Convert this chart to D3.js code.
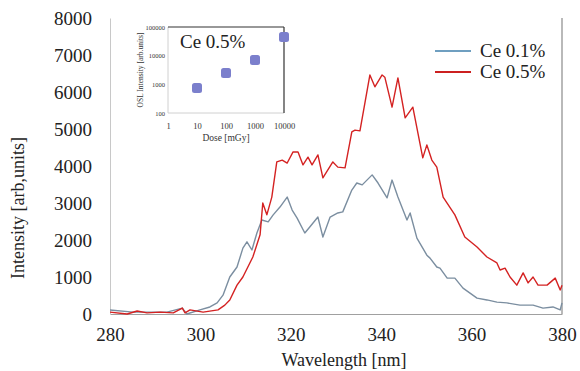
<!DOCTYPE html>
<html>
<head>
<meta charset="utf-8">
<script src="https://cdn.jsdelivr.net/npm/d3@7"></script>
<style>
  html, body { margin: 0; padding: 0; background: #fff; }
  svg { display: block; font-family: "Liberation Serif", "DejaVu Serif", serif; }
</style>
</head>
<body>
<div id="chart"></div>
<script>
// Emission spectra (wavelength nm, intensity arb. units)
const wlCe05 = [280, 283.8, 286, 288.2, 291.1, 294, 296, 296.6, 297.7, 300.6, 303.9, 305.4, 306.5, 308.1, 309.4, 311.6, 313.2, 313.8, 314.7, 315.8, 316.9, 318.1, 319.2, 320.5, 321.6, 322.7, 323.8, 324.7, 326, 327.1, 329.3, 330.4, 332, 333.5, 334.2, 335.3, 337.5, 338.6, 340.2, 340.8, 342.4, 343.7, 345.3, 347, 349.2, 350.1, 351.2, 352.3, 353.7, 356.3, 358.5, 361.2, 363.4, 365.6, 366.3, 367.4, 368.5, 370, 371.4, 372.5, 373.6, 374.7, 376.7, 378.5, 379.6, 380];
const ce05 = [50, 0, 80, 30, 50, 30, 160, 30, 110, 50, 110, 240, 380, 780, 1000, 1540, 2140, 3000, 2680, 3160, 4110, 4160, 4080, 4380, 4380, 4030, 4240, 4030, 4300, 3680, 4110, 3970, 3950, 4920, 4970, 4950, 6460, 6140, 6460, 6400, 5590, 6380, 5300, 5590, 4220, 4570, 4160, 3970, 3160, 2680, 2080, 1810, 1540, 1380, 1190, 1240, 1000, 780, 1110, 840, 1000, 780, 780, 970, 650, 780];

const wlCe01 = [280, 285.1, 292.6, 296, 297, 299.9, 302.1, 303.7, 305, 306.5, 308.1, 309.4, 310.3, 311.4, 312.5, 313.6, 315, 316.1, 317.6, 319.2, 320.3, 321.4, 323.1, 324.2, 326, 327.1, 328.7, 330.4, 331.5, 333.5, 334.6, 335.8, 338, 339.3, 341.3, 342.4, 343.7, 345.7, 346.4, 347.9, 350.1, 350.8, 352.3, 353, 354.6, 356.3, 358.1, 361.2, 363.4, 365.6, 367.8, 370.7, 373.6, 375.8, 378, 379.6, 380];
const ce01 = [110, 50, 50, 160, 0, 110, 190, 300, 510, 1000, 1270, 1780, 1950, 1730, 2190, 2540, 2490, 2680, 2890, 3160, 2810, 2590, 2190, 2350, 2620, 2080, 2620, 2730, 2760, 3350, 3540, 3490, 3760, 3540, 3140, 3620, 3160, 2540, 2730, 2050, 1590, 1510, 1270, 1240, 970, 970, 700, 430, 380, 320, 300, 240, 240, 160, 190, 110, 300];

const xTicks = [280, 300, 320, 340, 360, 380];
const yTicks = [0, 1000, 2000, 3000, 4000, 5000, 6000, 7000, 8000];

// Inset: OSL intensity vs dose
const dose = [10, 100, 1000, 10000];
const oslIntensity = [750, 2500, 7000, 45000];
const doseTicks = [1, 10, 100, 1000, 10000];
const oslTicks = [100, 1000, 10000, 100000];

const seriesNames = ['Ce 0.1%', 'Ce 0.5%'];
const seriesColors = ['#7b8ea0', '#d42222'];
const legendColors = ['#6f9fc0', '#cc2020'];

const W = 580, H = 371;
const svg = d3.select('#chart').append('svg').attr('width', W).attr('height', H);

const x = d3.scaleLinear().domain([280, 380]).range([110, 562]);
const y = d3.scaleLinear().domain([0, 8000]).range([314, 18]);

// axes
const xAxis = svg.append('g').attr('transform', `translate(0,${y(0)})`)
  .call(d3.axisBottom(x).tickValues(xTicks).tickSize(0).tickPadding(14).tickFormat(d3.format('d')));
xAxis.select('.domain').attr('stroke', '#a0a0a0');
xAxis.selectAll('text').attr('font-size', '19px').attr('fill', '#222').attr('font-family', '"Liberation Serif", serif');

const yAxis = svg.append('g').attr('transform', `translate(${x(280)},0)`)
  .call(d3.axisLeft(y).tickValues(yTicks).tickSize(0).tickPadding(18).tickFormat(d3.format('d')));
yAxis.select('.domain').attr('stroke', '#c8c8c8');
yAxis.selectAll('text').attr('font-size', '19px').attr('fill', '#222').attr('font-family', '"Liberation Serif", serif');

// right frame line
svg.append('line')
  .attr('x1', x(380)).attr('x2', x(380))
  .attr('y1', y(8000)).attr('y2', y(0))
  .attr('stroke', '#8a8a8a').attr('stroke-width', 1.2);

// axis titles
svg.append('text')
  .attr('x', 344).attr('y', 366)
  .attr('text-anchor', 'middle').attr('font-size', '18px').attr('fill', '#222')
  .text('Wavelength [nm]');
svg.append('text')
  .attr('transform', 'translate(24,208) rotate(-90)')
  .attr('text-anchor', 'middle').attr('font-size', '18px').attr('fill', '#222')
  .text('Intensity [arb,units]');

// spectra
const line = d3.line().x(d => x(d[0])).y(d => y(d[1]));
const spectra = [d3.zip(wlCe01, ce01), d3.zip(wlCe05, ce05)];
spectra.forEach((s, i) => {
  svg.append('path')
    .datum(s)
    .attr('fill', 'none')
    .attr('stroke', seriesColors[i])
    .attr('stroke-width', 1.4)
    .attr('stroke-linejoin', 'round')
    .attr('d', line);
});

// legend
const legend = svg.append('g');
seriesNames.forEach((name, i) => {
  const ly = 51 + i * 21;
  legend.append('line')
    .attr('x1', 435).attr('x2', 471).attr('y1', ly).attr('y2', ly)
    .attr('stroke', legendColors[i]).attr('stroke-width', 2);
  legend.append('text')
    .attr('x', 480).attr('y', ly + 6)
    .attr('font-size', '19px').attr('fill', '#222')
    .text(name);
});

// inset
const xi = d3.scaleLog().domain([1, 10000]).range([168, 284]);
const yi = d3.scaleLog().domain([100, 100000]).range([113, 27]);
const inset = svg.append('g');

inset.append('line').attr('x1', xi(1)).attr('x2', xi(1)).attr('y1', yi(100000)).attr('y2', yi(100))
  .attr('stroke', '#d0d0d0');
inset.append('line').attr('x1', xi(1)).attr('x2', xi(10000)).attr('y1', yi(100)).attr('y2', yi(100))
  .attr('stroke', '#d0d0d0');
inset.append('line').attr('x1', xi(1)).attr('x2', xi(10000)).attr('y1', yi(100000)).attr('y2', yi(100000))
  .attr('stroke', '#333').attr('stroke-width', 1.2);
inset.append('line').attr('x1', xi(10000)).attr('x2', xi(10000)).attr('y1', yi(100000)).attr('y2', yi(100))
  .attr('stroke', '#333').attr('stroke-width', 1.2);

const xiAxis = inset.append('g').attr('transform', `translate(0,${yi(100)})`)
  .call(d3.axisBottom(xi).tickValues(doseTicks).tickSize(0).tickPadding(10).tickFormat(d3.format('d')));
xiAxis.select('.domain').remove();
xiAxis.selectAll('text').attr('font-size', '8.5px').attr('fill', '#333').attr('font-family', '"Liberation Serif", serif');

const yiAxis = inset.append('g').attr('transform', `translate(${xi(1)},0)`)
  .call(d3.axisLeft(yi).tickValues(oslTicks).tickSize(0).tickPadding(3).tickFormat(d3.format('d')));
yiAxis.select('.domain').remove();
yiAxis.selectAll('text').attr('font-size', '6.5px').attr('fill', '#333').attr('font-family', '"Liberation Serif", serif');

inset.append('text')
  .attr('x', 226).attr('y', 141)
  .attr('text-anchor', 'middle').attr('font-size', '9.5px').attr('fill', '#333')
  .text('Dose [mGy]');
inset.append('text')
  .attr('transform', 'translate(143,70) rotate(-90)')
  .attr('text-anchor', 'middle').attr('font-size', '7.5px').attr('fill', '#333')
  .text('OSL Intensity [arb.units]');
inset.append('text')
  .attr('x', 180).attr('y', 48)
  .attr('font-size', '19px').attr('fill', '#222')
  .text('Ce 0.5%');

inset.selectAll('rect.pt')
  .data(d3.zip(dose, oslIntensity))
  .enter()
  .append('rect')
  .attr('class', 'pt')
  .attr('x', d => xi(d[0]) - 5)
  .attr('y', d => yi(d[1]) - 5)
  .attr('width', 10).attr('height', 10)
  .attr('rx', 2.5)
  .attr('fill', '#7b7fcc');
</script>
</body>
</html>
